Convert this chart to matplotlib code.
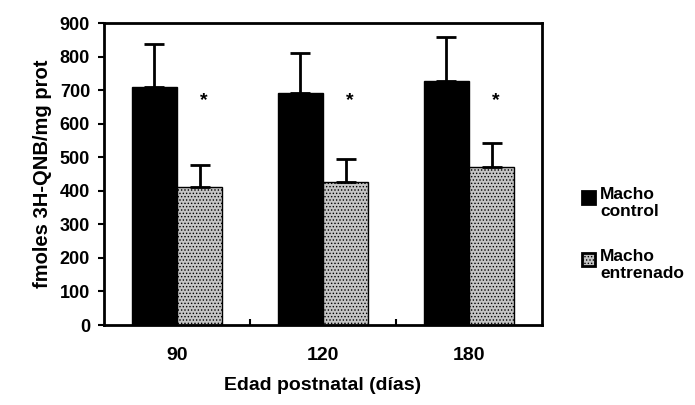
import numpy as np
import matplotlib.pyplot as plt
from matplotlib.patches import Rectangle

plt.rcParams['font.family'] = ['Liberation Sans', 'DejaVu Sans']
plt.rcParams['font.weight'] = 'bold'
plt.rcParams['hatch.linewidth'] = 0.6

edades = ['90', '120', '180']
control = [709, 691, 727]
control_err = [127, 120, 131]
entrenado = [411, 426, 471]
entrenado_err = [66, 68, 72]
grupos = ['Macho\ncontrol', 'Macho\nentrenado']

W, H = 695, 405
fig = plt.figure(figsize=(W / 100, H / 100), dpi=100)
ax = fig.add_axes([104 / W, 1 - 325 / H, 438 / W, 302 / H])

x = np.arange(len(edades))
w = 0.31
estilo_ctrl = dict(facecolor='black', edgecolor='black')
estilo_entr = dict(facecolor='#c4c4c4', edgecolor='black', hatch='.....')
ax.bar(x - w / 2, control, w, linewidth=1.0, **estilo_ctrl)
ax.bar(x + w / 2, entrenado, w, linewidth=1.0, **estilo_entr)
ax.errorbar(x - w / 2, control, yerr=[np.zeros(3), control_err], fmt='none',
            ecolor='black', elinewidth=2, capsize=7, capthick=2)
ax.errorbar(x + w / 2, entrenado, yerr=[np.zeros(3), entrenado_err], fmt='none',
            ecolor='black', elinewidth=2, capsize=7, capthick=2)

# asterisco de significacion sobre el grupo entrenado
for xi in x:
    ax.text(xi + w / 2 + 0.03, 670, '*', ha='center', va='center',
            fontsize=14, fontweight='bold')

ax.set_xlim(-0.5, 2.5)
ax.set_ylim(0, 900)
ax.set_yticks(range(0, 901, 100))
ax.set_xticks(x)
ax.set_xticklabels(edades)
ax.set_xticks([0.5, 1.5], minor=True)
ax.tick_params(axis='x', which='major', length=0, pad=16, labelsize=14)
ax.tick_params(axis='x', which='minor', length=4, direction='in', width=1.5)
ax.tick_params(axis='y', length=4, width=1.5, pad=6, labelsize=13)
for s in ax.spines.values():
    s.set_linewidth(2)

ax.set_xlabel('Edad postnatal (días)', fontsize=14, fontweight='bold', labelpad=9)
ax.set_ylabel('fmoles 3H-QNB/mg prot', fontsize=14.5, fontweight='bold', labelpad=6)

# leyenda a la derecha, cuadro alineado con la primera linea
for estilo, texto, ytop in [(estilo_ctrl, grupos[0], 190), (estilo_entr, grupos[1], 252)]:
    fig.patches.append(Rectangle((582 / W, 1 - (ytop + 14) / H), 13 / W, 13 / H,
                                 transform=fig.transFigure, linewidth=2, **estilo))
    fig.text(600 / W, 1 - (ytop - 3) / H, texto, ha='left', va='top',
             fontsize=12.5, fontweight='bold', linespacing=1.2)

fig.savefig('out.png', dpi=100)
